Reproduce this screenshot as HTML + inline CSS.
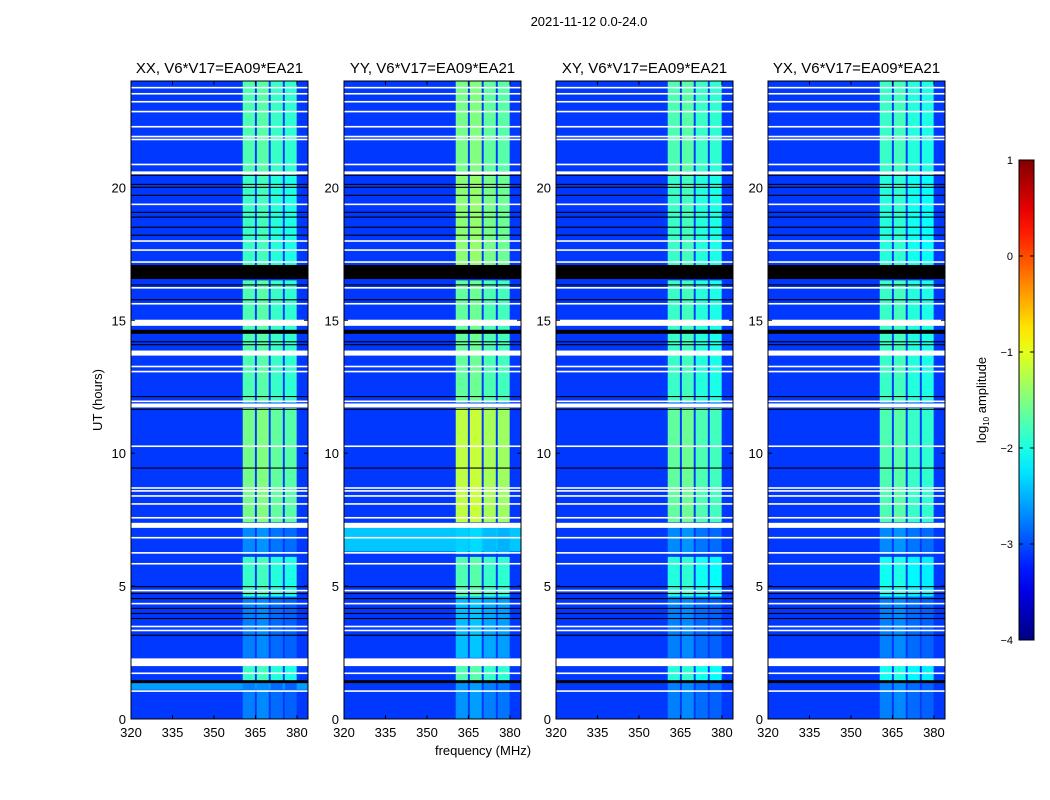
<!DOCTYPE html>
<html><head><meta charset="utf-8"><style>
body{margin:0;background:#fff;}
svg{display:block;font-family:"Liberation Sans","DejaVu Sans",sans-serif;}
</style></head><body>
<svg id="fig" width="1050" height="800" viewBox="0 0 1050 800">
<rect width="1050" height="800" fill="#fff"/>
<text x="589" y="26" font-size="13" text-anchor="middle">2021-11-12 0.0-24.0</text>
<text transform="translate(102,400) rotate(-90)" font-size="13" text-anchor="middle">UT (hours)</text>
<text x="483" y="755" font-size="13" text-anchor="middle">frequency (MHz)</text>
<g id="panels"></g>
<g id="cbar"></g>
</svg>
<script>
// ---- data ----
const panelTitles = ["XX, V6*V17=EA09*EA21","YY, V6*V17=EA09*EA21","XY, V6*V17=EA09*EA21","YX, V6*V17=EA09*EA21"];
const xTicks = [320,335,350,365,380];
const yTicks = [0,5,10,15,20];
const bandStart = [360.4,365.5,370.5,375.6];
const bandEnd   = [364.8,369.8,374.9,379.9];
const bandGain  = [0.05,0.1,-0.05,-0.1];
const segStart = [20.6,16.6,11.9,7.4,6.2,4.6,2.3,1.4,0.0];
const segEnd   = [24.0,20.5,16.5,11.7,7.2,6.1,4.6,2.0,1.4];
const levelXX = [-1.8,-1.9,-1.8,-1.6,-2.75,-1.9,-2.8,-1.9,-2.8];
const levelYY = [-1.6,-1.5,-1.7,-1.25,-2.4,-1.8,-2.5,-1.8,-2.7];
const levelXY = [-1.8,-1.9,-1.9,-1.7,-2.75,-2.0,-2.8,-2.0,-2.8];
const levelYX = [-1.9,-2.0,-1.9,-1.8,-2.75,-2.1,-2.8,-2.1,-2.8];
const bgLevel = -3.1;
const bgPatchPanel = [1,0];
const bgPatchStart = [6.3,1.1];
const bgPatchEnd   = [7.2,1.35];
const bgPatchLevel = [-2.4,-2.6];
const whiteLines = [23.75,23.52,23.22,22.85,22.28,21.91,21.80,20.86,19.36,17.98,17.64,17.19,16.22,15.62,13.26,13.07,11.95,10.26,8.69,8.58,8.39,8.09,7.57,6.82,6.25,5.84,4.83,4.34,3.48,3.33,1.72,1.05];
const whiteStart = [20.49,14.79,13.67,11.72,7.19,1.99];
const whiteEnd   = [20.60,15.02,13.86,11.87,7.38,2.28];
const blackLines = [20.45,20.11,20.0,19.70,19.06,18.88,18.50,18.20,16.33,15.77,14.19,14.08,12.13,11.65,9.44,4.98,4.72,4.53,4.16,3.97,3.78,3.15];
const blackStart = [16.55,14.49,1.35];
const blackEnd   = [17.08,14.64,1.46];
const cbTicks = [1,0,-1,-2,-3,-4];
const cbLabels = ["1","0","\u22121","\u22122","\u22123","\u22124"];
// ---- layout ----
const levels=[levelXX,levelYY,levelXY,levelYX];
const panelLeft=[131,344,556,768], PW=177, PT=81, PB=719;
const NS="http://www.w3.org/2000/svg";
function jet(v){let t=(v+4)/5;t=Math.max(0,Math.min(1,t));
 const c=x=>Math.round(255*Math.max(0,Math.min(1,x)));
 return `rgb(${c(1.5-Math.abs(4*t-3))},${c(1.5-Math.abs(4*t-2))},${c(1.5-Math.abs(4*t-1))})`;}
function el(tag,attrs,parent){const e=document.createElementNS(NS,tag);for(const k in attrs)e.setAttribute(k,attrs[k]);parent.appendChild(e);return e;}
const panels=document.getElementById('panels');
panelLeft.forEach((L,p)=>{
 const xs=f=>L+(f-320)/(384-320)*PW;
 const ys=h=>PB-h/24*(PB-PT);
 const g=el('g',{},panels);
 
 
 const bg=el('rect',{x:L,y:PT,width:PW,height:PB-PT,fill:jet(bgLevel)},g);
 
 
 bgPatchPanel.forEach((pp,i)=>{ if(pp!==p)return;
  const r=el('rect',{x:L,y:ys(bgPatchEnd[i]),width:PW,height:ys(bgPatchStart[i])-ys(bgPatchEnd[i]),fill:jet(bgPatchLevel[i])},g);
  
  });
 segStart.forEach((s,i)=>{bandStart.forEach((b,j)=>{
  const r=el('rect',{x:xs(b),y:ys(segEnd[i]),width:xs(bandEnd[j])-xs(b),height:ys(s)-ys(segEnd[i]),fill:jet(levels[p][i]+bandGain[j])},g);
  
  });});
 whiteLines.forEach(h=>{const r=el('rect',{x:L,y:ys(h)-0.8,width:PW,height:1.6,fill:'#fff'},g);
  
  });
 whiteStart.forEach((s,i)=>{const r=el('rect',{x:L,y:ys(whiteEnd[i]),width:PW,height:ys(s)-ys(whiteEnd[i]),fill:'#fff'},g);
  
  });
 blackLines.forEach(h=>{const r=el('rect',{x:L,y:ys(h)-0.55,width:PW,height:1.1,fill:'#000'},g);
  
  });
 blackStart.forEach((s,i)=>{const r=el('rect',{x:L,y:ys(blackEnd[i]),width:PW,height:ys(s)-ys(blackEnd[i]),fill:'#000'},g);
  
  });
 const fr=el('rect',{x:L,y:PT,width:PW,height:PB-PT,fill:'none',stroke:'#000','stroke-width':1},g);
 
 
 const t=el('text',{x:L+PW/2,y:73,'font-size':15,'text-anchor':'middle'},g);t.textContent=panelTitles[p];
 
 
 xTicks.forEach(v=>{const x=xs(v);
  el('line',{x1:x,x2:x,y1:PB,y2:PB-4,stroke:'#000'},g);el('line',{x1:x,x2:x,y1:PT,y2:PT+4,stroke:'#000'},g);
  const tx=el('text',{x:x,y:PB+18,'font-size':13,'text-anchor':'middle'},g);tx.textContent=v;
  
  });
 yTicks.forEach(v=>{const y=ys(v);
  el('line',{x1:L,x2:L+4,y1:y,y2:y,stroke:'#000'},g);el('line',{x1:L+PW,x2:L+PW-4,y1:y,y2:y,stroke:'#000'},g);
  const ty=el('text',{x:L-5,y:y+5,'font-size':13,'text-anchor':'end'},g);ty.textContent=v;
  
  });
});
// colorbar
const cb=document.getElementById('cbar');


const CX=1019,CW=15,CT=160,CB=640;
const defs=el('defs',{},cb);const lg=el('linearGradient',{id:'jetg',x1:0,y1:1,x2:0,y2:0},defs);
for(let i=0;i<=20;i++){const v=-4+5*i/20;el('stop',{offset:i/20,'stop-color':jet(v)},lg);}
el('rect',{x:CX,y:CT,width:CW,height:CB-CT,fill:'url(#jetg)',stroke:'#000','stroke-width':1},cb);
cbTicks.forEach((v,i)=>{const y=CB-(v+4)/5*(CB-CT);
 el('line',{x1:CX,x2:CX+4,y1:y,y2:y,stroke:'#000'},cb);el('line',{x1:CX+CW,x2:CX+CW-4,y1:y,y2:y,stroke:'#000'},cb);
 const t=el('text',{x:CX-6,y:y+4,'font-size':11,'text-anchor':'end'},cb);t.textContent=cbLabels[i];
 
 });
const cl=el('text',{transform:'translate(986,400) rotate(-90)','font-size':13,'text-anchor':'middle'},cb);
cl.innerHTML='log<tspan font-size="8" dy="3">10</tspan><tspan dy="-3"> amplitude</tspan>';


</script>
</body></html>
